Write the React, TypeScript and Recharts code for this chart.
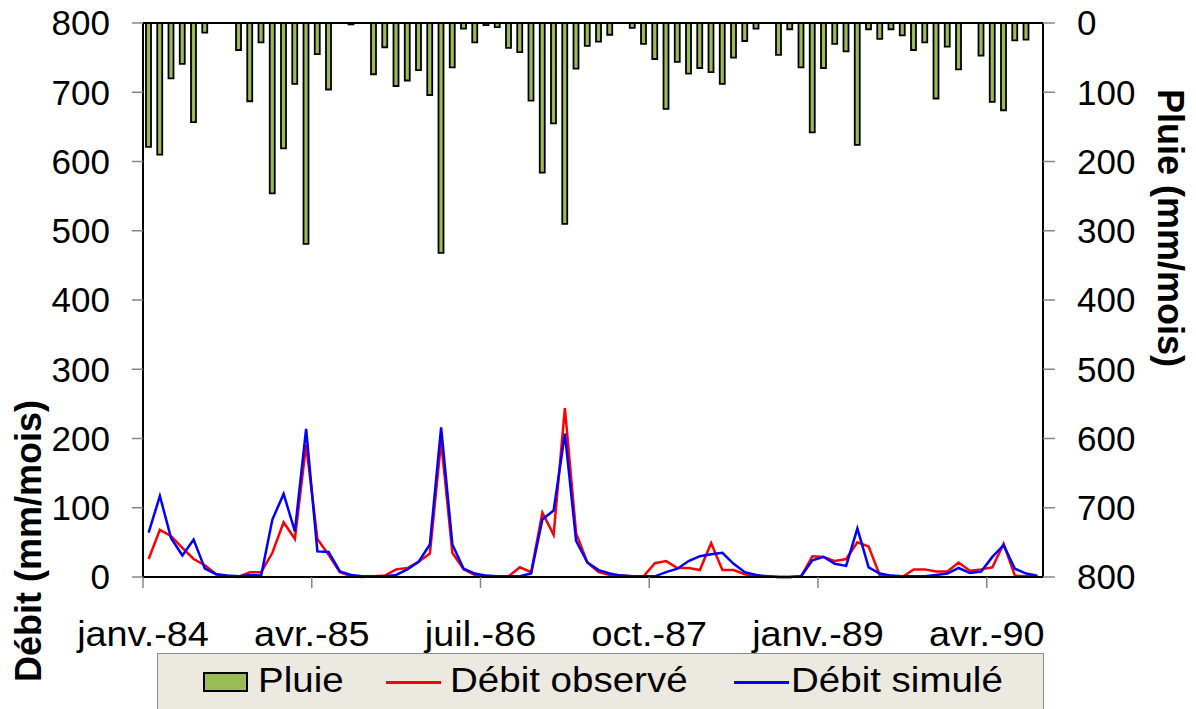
import { ComposedChart, Bar, Line, XAxis, YAxis, ReferenceLine } from 'recharts';

// mois de janv.-84 à août-90
const years = ['84', '85', '86', '87', '88', '89', '90'];
const monthNames = ['janv.', 'févr.', 'mars', 'avr.', 'mai', 'juin', 'juil.', 'août', 'sept.', 'oct.', 'nov.', 'déc.'];
const nbMonths = 80;

const pluie = [
  179, 190, 80, 59, 143, 14, 0, 0, 39, 113, 28, 246,
  181, 88, 319, 45, 96, 0, 2, 0, 74, 35, 91, 83,
  68, 104, 332, 64, 8, 28, 3, 6, 36, 42, 112, 216,
  145, 290, 66, 33, 27, 17, 0, 7, 30, 52, 124, 56,
  73, 65, 71, 88, 50, 26, 8, 0, 46, 9, 64, 158,
  65, 30, 41, 176, 9, 23, 9, 18, 39, 28, 109, 34,
  67, 0, 47, 114, 126, 25, 24, 0,
];

const debitObserve = [
  26, 68, 59, 42, 26, 17, 4, 1, 0, 7, 7, 35,
  79, 55, 191, 55, 32, 7, 1, 0, 1, 2, 11, 13,
  22, 34, 196, 35, 11, 3, 1, 1, 1, 14, 7, 93,
  61, 244, 63, 21, 7, 3, 2, 1, 1, 20, 23, 13,
  13, 10, 49, 10, 10, 4, 1, 1, 0, 0, 1, 30,
  29, 23, 26, 50, 44, 2, 1, 0, 11, 11, 8, 8,
  21, 9, 11, 14, 48, 2, 1, 1,
];

const debitSimule = [
  64, 117, 56, 31, 54, 12, 4, 2, 1, 3, 2, 83,
  120, 66, 214, 37, 36, 8, 3, 1, 1, 1, 3, 11,
  22, 47, 216, 47, 12, 5, 2, 1, 1, 1, 5, 83,
  96, 207, 52, 21, 10, 5, 2, 1, 1, 1, 7, 12,
  23, 30, 33, 35, 19, 7, 3, 1, 0, 0, 1, 24,
  29, 19, 16, 70, 14, 5, 2, 1, 1, 1, 3, 5,
  13, 6, 8, 29, 46, 12, 5, 2,
];

const leftTicks = [0, 100, 200, 300, 400, 500, 600, 700, 800];
const rightTicks = [0, 100, 200, 300, 400, 500, 600, 700, 800];

const data = Array.from({ length: nbMonths }, (_, i) => ({
  mois: `${monthNames[i % 12]}-${years[Math.floor(i / 12)]}`,
  pluie: pluie[i],
  observe: debitObserve[i],
  simule: debitSimule[i],
}));

const W = 1196;
const H = 709;
const PLOT_LEFT = 143;
const PLOT_RIGHT = 1043;
const BAND = (PLOT_RIGHT - PLOT_LEFT) / nbMonths;
const FONT = '"Liberation Sans", Arial, sans-serif';
const FS = 35;
const STRETCH = 1.08;

const XTick = (props: any) => {
  const { x, y, payload } = props;
  const bx = x - BAND / 2;
  return (
    <g>
      <line x1={bx} x2={bx} y1={y} y2={y + 11} stroke="#868686" strokeWidth={1.5} />
      <text
        transform={`translate(${bx},${y + 69}) scale(${STRETCH},1)`}
        textAnchor="middle"
        fontSize={FS}
        fontFamily={FONT}
        fill="#000"
      >
        {payload.value}
      </text>
    </g>
  );
};

const tickStyle = { fontSize: FS, fill: '#000', fontFamily: FONT };

const legendText = (left: number): React.CSSProperties => ({
  position: 'absolute',
  left,
  top: 6,
  lineHeight: '40px',
  whiteSpace: 'nowrap',
  transform: `scaleX(${STRETCH + 0.02})`,
  transformOrigin: 'left center',
});

export default function App() {
  return (
    <div style={{ position: 'relative', width: W, height: H, overflow: 'hidden', background: '#fff' }}>
      <style>{'body{margin:0}'}</style>
      <ComposedChart
        width={W}
        height={H}
        data={data}
        margin={{ top: 23, right: 53, bottom: 72, left: 43 }}
        barGap={0}
      >
        <XAxis
          dataKey="mois"
          interval={14}
          height={60}
          tickSize={0}
          tickMargin={0}
          tickLine={false}
          axisLine={{ stroke: '#000', strokeWidth: 2 }}
          tick={<XTick />}
        />
        <YAxis
          yAxisId="debit"
          width={100}
          domain={[0, 800]}
          ticks={leftTicks}
          tickSize={11}
          tickMargin={22}
          axisLine={{ stroke: '#000', strokeWidth: 2 }}
          tickLine={{ stroke: '#868686', strokeWidth: 1.5 }}
          tick={tickStyle}
          label={{
            content: () => (
              <text
                transform="translate(28,541) rotate(-90)"
                textAnchor="middle"
                dominantBaseline="central"
                fontSize={36}
                fontWeight="bold"
                fontFamily={FONT}
                fill="#000"
              >
                Débit (mm/mois)
              </text>
            ),
          }}
        />
        <YAxis
          yAxisId="pluie"
          orientation="right"
          reversed
          width={100}
          domain={[0, 800]}
          ticks={rightTicks}
          tickSize={12}
          tickMargin={22}
          axisLine={{ stroke: '#000', strokeWidth: 2 }}
          tickLine={{ stroke: '#868686', strokeWidth: 1.5 }}
          tick={{ ...tickStyle, textAnchor: 'start' }}
          label={{
            content: () => (
              <text
                transform="translate(1170,228) rotate(90)"
                textAnchor="middle"
                dominantBaseline="central"
                fontSize={36}
                fontWeight="bold"
                fontFamily={FONT}
                fill="#000"
              >
                Pluie (mm/mois)
              </text>
            ),
          }}
        />
        <Bar
          yAxisId="pluie"
          dataKey="pluie"
          name="Pluie"
          barSize={5}
          fill="#9BBB59"
          stroke="#000"
          strokeWidth={1.8}
          isAnimationActive={false}
        />
        <Line
          yAxisId="debit"
          type="linear"
          dataKey="observe"
          name="Débit observé"
          stroke="#FF0000"
          strokeWidth={2.5}
          dot={false}
          activeDot={false}
          isAnimationActive={false}
        />
        <Line
          yAxisId="debit"
          type="linear"
          dataKey="simule"
          name="Débit simulé"
          stroke="#0000FF"
          strokeWidth={2.5}
          dot={false}
          activeDot={false}
          isAnimationActive={false}
        />
        <ReferenceLine yAxisId="debit" y={800} stroke="#000" strokeWidth={2} />
      </ComposedChart>

      {/* légende */}
      <div
        style={{
          position: 'absolute',
          left: 157,
          top: 653,
          width: 887,
          height: 80,
          background: '#ECE9E0',
          border: '1px solid #8C8C8C',
          boxSizing: 'border-box',
          fontFamily: FONT,
          fontSize: FS,
          color: '#000',
        }}
      >
        <div style={{ position: 'absolute', left: 45, top: 18, width: 45, height: 20, background: '#9BBB59', border: '2px solid #000', boxSizing: 'border-box' }} />
        <span style={legendText(100)}>Pluie</span>
        <div style={{ position: 'absolute', left: 228, top: 27, width: 55, height: 3, background: '#FF0000' }} />
        <span style={legendText(292)}>Débit observé</span>
        <div style={{ position: 'absolute', left: 576, top: 27, width: 55, height: 3, background: '#0000FF' }} />
        <span style={legendText(633)}>Débit simulé</span>
      </div>
    </div>
  );
}
